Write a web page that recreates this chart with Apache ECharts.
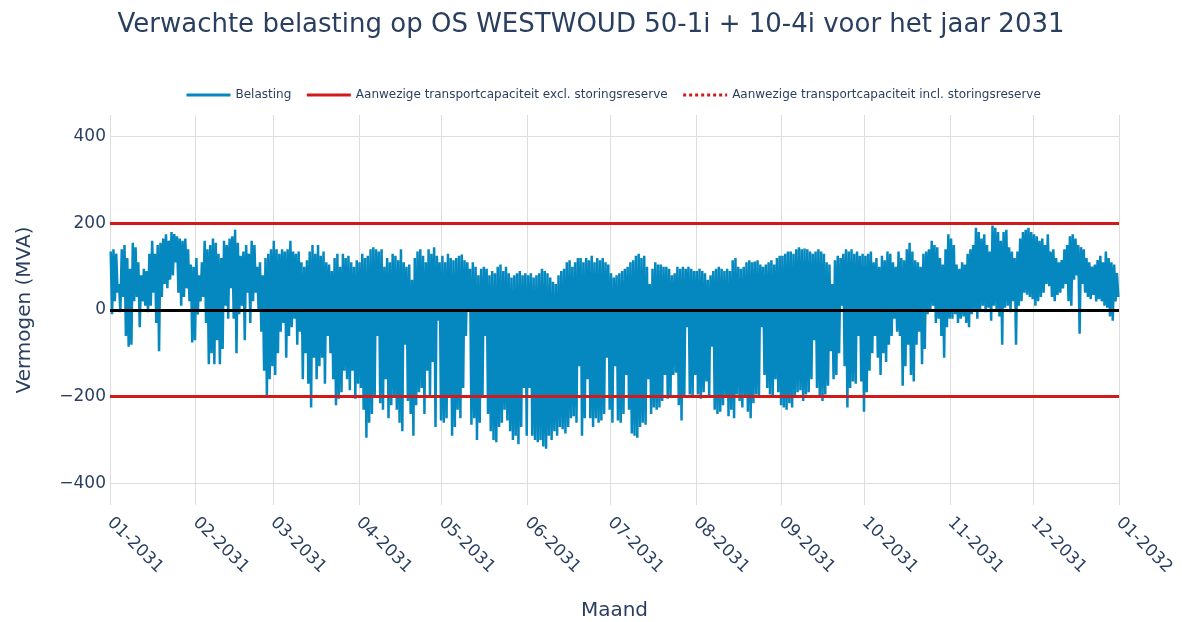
<!DOCTYPE html>
<html>
<head>
<meta charset="utf-8">
<script src="https://cdn.jsdelivr.net/npm/echarts@6/dist/echarts.min.js"></script>
<style>
  html, body { margin: 0; padding: 0; background: #fff; }
  #chart { width: 1182px; height: 622px; }
</style>
</head>
<body>
<div id="chart"></div>
<script>
const dailyMax = [
  // jan
  135,140,130,60,140,150,120,95,155,145,110,80,95,90,130,160,130,150,155,165,175,160,180,175,170,165,160,165,140,105,100,
  // feb
  120,80,110,160,140,150,165,155,130,120,160,150,165,170,185,155,125,135,150,130,160,150,100,110,80,120,130,140,
  // mrt
  160,140,130,140,135,140,160,135,130,135,110,100,115,135,150,130,150,125,135,110,105,90,120,130,100,130,120,125,110,100,115,
  // apr
  110,130,120,125,140,145,140,135,140,100,120,110,130,125,115,140,110,100,105,70,120,135,140,125,110,140,130,145,125,110,
  // mei
  125,110,130,120,115,120,125,128,115,110,95,110,100,80,95,100,95,80,90,85,100,105,90,100,85,75,80,85,90,80,85,
  // jun
  80,85,75,80,85,95,90,85,75,65,60,80,90,95,110,115,100,110,120,120,110,120,115,125,110,120,115,120,110,105,
  // jul
  85,75,80,85,90,95,100,110,115,125,130,120,125,100,60,95,110,105,105,100,100,95,80,85,100,95,100,95,100,95,90,
  // aug
  90,95,90,85,70,80,90,95,100,95,90,95,90,115,120,100,95,100,110,115,110,112,115,105,100,105,110,115,105,120,125,
  // sep
  125,130,135,135,130,140,145,140,142,140,135,130,135,140,135,130,110,105,60,115,125,120,130,140,135,140,130,135,125,130,
  // okt
  125,130,135,110,120,100,125,115,135,130,110,100,135,120,115,140,155,135,115,110,100,130,135,140,160,150,145,120,105,140,175,
  // nov
  165,150,105,95,110,105,130,140,150,190,180,165,175,150,135,195,190,180,160,180,185,145,135,120,135,165,180,185,190,180,
  // dec
  175,170,160,165,150,175,135,140,120,110,115,140,150,170,175,165,150,145,140,120,110,100,105,115,125,110,135,120,110,105,85
]

const dailyMin = [
  // jan
  -10,20,40,-5,30,-60,-85,-80,20,30,-40,20,10,-5,10,40,-30,-95,30,60,50,70,80,110,40,10,30,50,20,-75,-70,
  // feb
  -10,20,30,-30,-125,-100,-125,-70,-125,-90,10,-20,50,-20,-100,-10,10,-70,40,-30,20,40,0,-50,-140,-200,-160,-130,
  // mrt
  -150,-100,-50,-30,-110,-60,-40,-20,-80,-50,-160,-100,-170,-225,-110,-160,-130,-110,-170,-60,-100,-160,-220,-205,-190,-140,-160,-185,-140,-205,-170,
  // apr
  -180,-230,-295,-260,-240,-200,-60,-215,-230,-160,-250,-220,-200,-230,-260,-280,-80,-210,-240,-290,-220,-190,-180,-240,-140,-200,-120,-270,-25,-255,
  // mei
  -260,-250,-200,-290,-270,-230,-250,-180,-60,0,-265,-250,-300,-260,-200,-60,-240,-280,-300,-305,-270,-260,-230,-255,-280,-300,-290,-310,-270,-180,-290,
  // jun
  -180,-290,-300,-305,-300,-315,-320,-290,-300,-280,-290,-270,-275,-285,-270,-250,-245,-260,-130,-290,-250,-160,-250,-270,-250,-260,-255,-240,-110,-230,
  // jul
  -260,-130,-255,-260,-240,-150,-230,-285,-290,-295,-270,-260,-265,-160,-240,-225,-230,-225,-210,-150,-205,-200,-150,-145,-220,-255,-200,-40,-195,-200,-150,
  // aug
  -195,-205,-190,-165,-200,-85,-230,-240,-235,-220,-200,-245,-230,-250,-195,-210,-225,-200,-235,-250,-215,-195,-200,-40,-150,-180,-195,-200,-160,-190,-220,
  // sep
  -225,-230,-215,-225,-200,-190,-185,-210,-195,-190,-160,-70,-180,-200,-210,-195,-175,-95,-160,-150,-100,10,-130,-225,-180,-165,-170,-60,-165,-235,
  // okt
  -190,-140,-100,-60,-110,-150,-100,-120,-80,-60,-20,-50,-60,-175,-130,-80,-150,-165,-80,-50,-125,-90,-10,0,10,-30,-20,-60,-110,-40,-20,
  // nov
  -20,-10,-30,-20,-15,-30,-40,-10,0,-20,0,10,-5,5,-25,10,0,-15,-80,5,10,-5,20,-80,10,20,40,35,30,25,
  // dec
  10,20,30,40,60,55,30,20,35,40,50,60,20,10,70,80,-55,60,40,30,25,35,20,25,20,10,5,-15,-25,20,30
]

const capExcl = [200, -200]   // transportcapaciteit excl. storingsreserve
const capIncl = [200, -200]   // transportcapaciteit incl. storingsreserve
const yTicks = [-400, -200, 0, 200, 400]

const DAY = 86400000
const start = Date.UTC(2031, 0, 1)
const end = Date.UTC(2032, 0, 1)

// per dag: piek en dal als twee punten
const belasting = []
dailyMax.forEach((hi, i) => {
  belasting.push([start + i * DAY + DAY * 0.25, hi])
  belasting.push([start + i * DAY + DAY * 0.75, dailyMin[i]])
})

const txt = '#2a3f5f'
const font = 'DejaVu Sans'
const red = '#d11b1b'
const blue = '#0588bf'

const chart = echarts.init(document.getElementById('chart'))

chart.setOption({
  useUTC: true,
  animation: false,
  title: {
    text: 'Verwachte belasting op OS WESTWOUD 50-1i + 10-4i voor het jaar 2031',
    left: 'center',
    top: 7,
    textStyle: { color: txt, fontFamily: font, fontSize: 26, fontWeight: 'normal' }
  },
  legend: {
    left: 180,
    top: 84,
    itemWidth: 44,
    itemHeight: 14,
    itemGap: 14,
    itemStyle: { color: 'rgba(0,0,0,0)', borderWidth: 0, opacity: 0 },
    textStyle: { color: txt, fontFamily: font, fontSize: 12 },
    data: [
      { name: 'Belasting', lineStyle: { width: 3, color: blue } },
      { name: 'Aanwezige transportcapaciteit excl. storingsreserve', lineStyle: { width: 3, color: red, type: 'solid' } },
      { name: 'Aanwezige transportcapaciteit incl. storingsreserve', lineStyle: { width: 3, color: red, type: 'dotted' } }
    ]
  },
  grid: { left: 110, right: 63, top: 115, bottom: 117, outerBoundsMode: 'none' },
  xAxis: {
    type: 'time',
    min: start,
    max: end,
    splitNumber: 12,
    name: 'Maand',
    nameLocation: 'middle',
    nameGap: 96,
    nameTextStyle: { color: txt, fontFamily: font, fontSize: 20 },
    axisLine: { show: false },
    axisTick: { show: false },
    axisLabel: {
      rotate: -45,
      margin: 15,
      color: txt,
      fontFamily: font,
      fontSize: 17,
      showMinLabel: true,
      showMaxLabel: true,
      formatter: (v) => {
        const d = new Date(v)
        return String(d.getUTCMonth() + 1).padStart(2, '0') + '-' + d.getUTCFullYear()
      }
    },
    splitLine: { show: true, lineStyle: { color: '#dddddd', width: 1 } }
  },
  yAxis: {
    type: 'value',
    min: -450,
    max: 450,
    name: 'Vermogen (MVA)',
    nameLocation: 'middle',
    nameGap: 75,
    nameTextStyle: { color: txt, fontFamily: font, fontSize: 20 },
    axisLine: { show: false },
    axisTick: { show: false, customValues: yTicks },
    axisLabel: {
      customValues: yTicks,
      margin: 4,
      color: txt,
      fontFamily: font,
      fontSize: 17,
      formatter: (v) => String(v).replace('-', '\u2212')
    },
    splitLine: { show: true, lineStyle: { color: '#dddddd', width: 1 } }
  },
  series: [
    {
      name: 'nullijn',
      type: 'line',
      data: [],
      z: 1,
      silent: true,
      markLine: {
        symbol: 'none',
        silent: true,
        label: { show: false },
        lineStyle: { color: '#000', width: 3, type: 'solid' },
        data: [{ yAxis: 0 }]
      }
    },
    {
      name: 'Belasting',
      type: 'line',
      data: belasting,
      symbol: 'none',
      sampling: null,
      z: 2,
      lineStyle: { color: blue, width: 2.5 },
      itemStyle: { color: blue }
    },
    {
      name: 'Aanwezige transportcapaciteit excl. storingsreserve',
      type: 'line',
      data: [],
      symbol: 'none',
      z: 3,
      lineStyle: { color: red, width: 3, type: 'solid' },
      itemStyle: { color: red },
      markLine: {
        symbol: 'none',
        silent: true,
        label: { show: false },
        lineStyle: { color: red, width: 3, type: 'solid' },
        data: capExcl.map(v => ({ yAxis: v }))
      }
    },
    {
      name: 'Aanwezige transportcapaciteit incl. storingsreserve',
      type: 'line',
      data: [],
      symbol: 'none',
      z: 3,
      lineStyle: { color: red, width: 3, type: 'dotted' },
      itemStyle: { color: red },
      markLine: {
        symbol: 'none',
        silent: true,
        label: { show: false },
        lineStyle: { color: red, width: 3, type: 'solid' },
        data: capIncl.map(v => ({ yAxis: v }))
      }
    }
  ]
})
</script>
</body>
</html>
